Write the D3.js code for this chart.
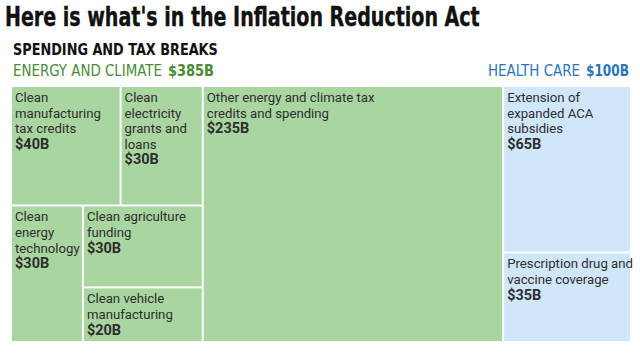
<!DOCTYPE html>
<html><head><meta charset="utf-8">
<script src="https://cdn.jsdelivr.net/npm/d3@7"></script>
<style>
body{margin:0;background:#fff;}
svg{display:block;}
.cond{font-family:"Liberation Sans Narrow","DejaVu Sans Condensed","Roboto",sans-serif;}
.lbl{font-family:"Roboto","Open Sans",sans-serif;font-size:13.2px;fill:#2e2e2e;}
</style></head>
<body><svg id="c" width="640" height="359"></svg>
<script>
const title = "Here is what's in the Inflation Reduction Act";
const subtitle = "SPENDING AND TAX BREAKS";
const groupNames = ["ENERGY AND CLIMATE", "HEALTH CARE"];
const groupTotals = ["$385B", "$100B"];
const itemNames = [
  ["Clean", "manufacturing", "tax credits"],
  ["Clean", "electricity", "grants and", "loans"],
  ["Clean", "energy", "technology"],
  ["Clean agriculture", "funding"],
  ["Clean vehicle", "manufacturing"],
  ["Other energy and climate tax", "credits and spending"],
  ["Extension of", "expanded ACA", "subsidies"],
  ["Prescription drug and", "vaccine coverage"]
];
const itemValues = [40, 30, 30, 30, 20, 235, 65, 35];
const itemGroup = [0, 0, 0, 0, 0, 0, 1, 1];

const colors = ["#a9d5a0", "#cfe6fb"];
const headColors = ["#4b8a36", "#2b74b8"];

// hierarchy with tiling directions
const leaf = i => ({i: i, value: itemValues[i]});
const tree = {dir: "dice", children: [
  {dir: "dice", children: [
    {dir: "slice", children: [
      {dir: "dice", children: [leaf(0), leaf(1)]},
      {dir: "dice", children: [leaf(2), {dir: "slice", children: [leaf(3), leaf(4)]}]}
    ]},
    leaf(5)
  ]},
  {dir: "slice", children: [leaf(6), leaf(7)]}
]};

const root = d3.hierarchy(tree, d => d.children).sum(d => d.value || 0);
d3.treemap()
  .tile((node, x0, y0, x1, y1) => {
    (node.data.dir === "slice" ? d3.treemapSlice : d3.treemapDice)(node, x0, y0, x1, y1);
  })
  .size([618, 254])
  .paddingInner(2)
  .round(false)(root);

const svg = d3.select("#c");

// fit text horizontally by scaling x only, keeping glyph height
function fitText(x, y, target, size, weight, color, str){
  const t = svg.append("text").attr("class","cond").attr("x",0).attr("y",0)
    .attr("font-size",size).attr("font-weight",weight).attr("fill",color).text(str);
  const w = t.node().getComputedTextLength();
  const sx = target / w;
  t.attr("transform", `translate(${x},${y}) scale(${sx},1)`);
  return t;
}

fitText(5, 26, 475, 27, "bold", "#111", title).attr("stroke","#111").attr("stroke-width",0.4);
fitText(13, 55, 205, 16, "bold", "#111", subtitle);
fitText(13, 76, 149, 16, "normal", headColors[0], groupNames[0]);
fitText(168, 76, 46, 16, "bold", headColors[0], groupTotals[0]);
fitText(488, 76, 92, 16, "normal", headColors[1], groupNames[1]);
fitText(586, 76, 43, 16, "bold", headColors[1], groupTotals[1]);

const g = svg.append("g").attr("transform","translate(12,87)");
const leaves = root.leaves();
const cell = g.selectAll("g.cell").data(leaves).join("g")
  .attr("transform", d => `translate(${d.x0},${d.y0})`);
cell.append("rect")
  .attr("width", d => d.x1 - d.x0).attr("height", d => d.y1 - d.y0)
  .attr("fill", d => colors[itemGroup[d.data.i]]);
cell.each(function(d){
  const t = d3.select(this).append("text").attr("class","lbl");
  const lines = itemNames[d.data.i];
  lines.forEach((l, k) => {
    t.append("tspan").attr("x",3).attr("y", 15 + k*15.6).text(l);
  });
  t.append("tspan").attr("x",3).attr("y", 15 + lines.length*15.6)
    .attr("font-weight","bold").attr("font-size",14.5).text("$" + itemValues[d.data.i] + "B");
});
</script></body></html>
